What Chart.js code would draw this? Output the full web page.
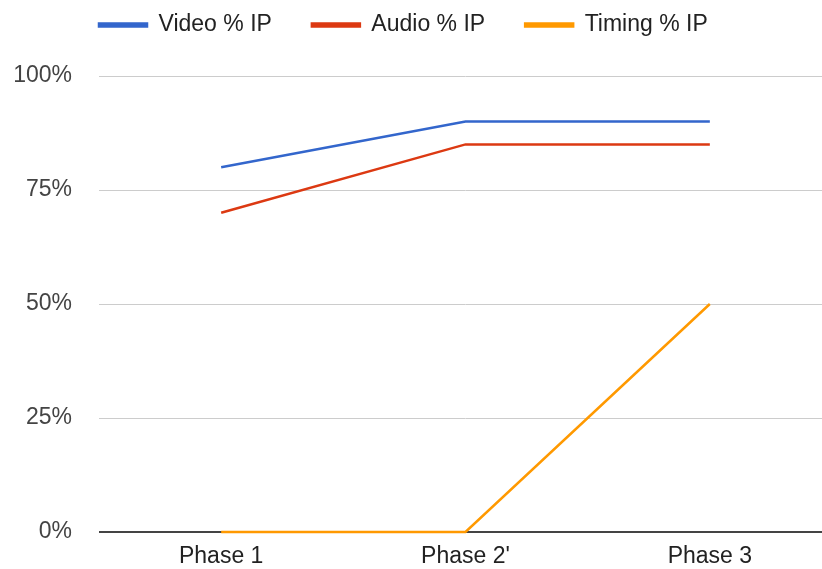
<!DOCTYPE html>
<html>
<head>
<meta charset="utf-8">
<script src="https://cdn.jsdelivr.net/npm/chart.js@4"></script>
<style>
  html, body { margin: 0; padding: 0; overflow: hidden; background: #fff; }
  #wrap { width: 832px; height: 569px; }
</style>
</head>
<body>
<div id="wrap"><canvas id="chart"></canvas></div>
<script>
/** Data */
const phases = ['Phase 1', "Phase 2'", 'Phase 3'];
const videoIP = [80, 90, 90];
const audioIP = [70, 85, 85];
const timingIP = [0, 0, 50];
const yTicks = [0, 25, 50, 75, 100];

Chart.defaults.font.family = '"Liberation Sans", Arial, sans-serif';
Chart.defaults.font.size = 23;

const line = (label, data, color) => ({
    label: label,
    data: data,
    borderColor: color,
    backgroundColor: color,
    borderWidth: 2.5,
    pointRadius: 0,
    pointHoverRadius: 0,
    tension: 0,
    fill: false,
    clip: false
})

/** Legend placed like Google Charts */
const legendPlacer = {
    id: 'legendPlacer',
    beforeInit(chart) {
        const fit = chart.legend.fit;
        chart.legend.fit = function () {
            fit.bind(chart.legend)();
            this.height = 76;
        };
    },
    beforeDraw(chart) {
        chart.legend.left = 99 - 40;
        chart.legend.top = 25 - 40 - 11.5;
    }
}

new Chart(document.getElementById('chart'), {
    type: 'line',
    data: {
        labels: phases,
        datasets: [
            line('Video % IP', videoIP, '#3366cc'),
            line('Audio % IP', audioIP, '#dc3912'),
            line('Timing % IP', timingIP, '#ff9900')
        ]
    },
    options: {
        responsive: true,
        maintainAspectRatio: false,
        animation: false,
        layout: { padding: 0 },
        plugins: {
            title: { display: false },
            tooltip: { enabled: false },
            legend: {
                display: true,
                position: 'top',
                align: 'start',
                labels: {
                    boxWidth: 48,
                    boxHeight: 3,
                    padding: 40,
                    color: '#222',
                    font: { size: 23 }
                }
            }
        },
        scales: {
            x: {
                offset: true,
                grid: { display: false, drawTicks: false },
                border: { display: false },
                ticks: { color: '#222', padding: 11, font: { size: 23 } },
                afterFit: s => { s.height = 37; }
            },
            y: {
                min: 0,
                max: 100,
                afterBuildTicks: s => { s.ticks = yTicks.map(v => ({ value: v })); },
                grid: {
                    drawTicks: false,
                    color: ctx => ctx.tick.value === 0 ? '#444' : '#ccc',
                    lineWidth: ctx => ctx.tick.value === 0 ? 2 : 1
                },
                border: { display: false },
                ticks: {
                    color: '#444',
                    padding: 27,
                    font: { size: 23 },
                    callback: v => v + '%'
                },
                afterFit: s => {
                    s.width = 99;
                    s.paddingTop = 0;
                    s.paddingBottom = 0;
                }
            }
        }
    },
    plugins: [legendPlacer]
});
</script>
</body>
</html>
